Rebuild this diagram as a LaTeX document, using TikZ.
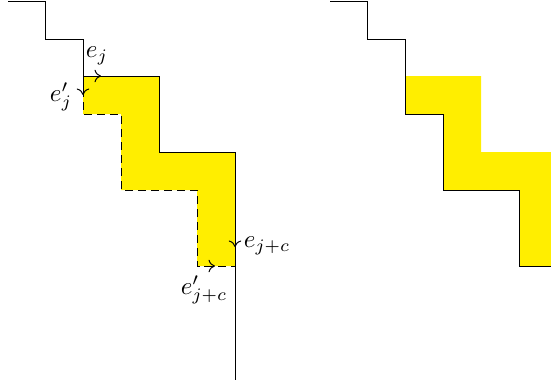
\documentclass[tikz,border=0pt]{standalone}
\usetikzlibrary{arrows.meta}
\definecolor{fillyellow}{RGB}{255,238,0}
\begin{document}
\begin{tikzpicture}[x=0.4pt,y=-0.4pt,
  boundary/.style={black,line width=0.4pt},
  dashedline/.style={black,line width=0.4pt,dash pattern=on 3.2pt off 2pt},
  region/.style={fill=fillyellow,draw=none},
  tip/.style={black,line width=0.4pt,-{To[length=2.6pt,width=5pt]}},
  lbl/.style={inner sep=0pt}]
\useasboundingbox (0,0) rectangle (551,383);
% ---------- left picture ----------
\coordinate (A0) at (8,1);
\coordinate (A1) at (45,1);
\coordinate (A2) at (45,39);
\coordinate (A3) at (83,39);
\coordinate (A4) at (83,76);
\coordinate (A5) at (159,76);
\coordinate (A6) at (159,152);
\coordinate (A7) at (235,152);
\coordinate (A8) at (235,380);
\coordinate (B1) at (83,114);
\coordinate (B2) at (121,114);
\coordinate (B3) at (121,190);
\coordinate (B4) at (197,190);
\coordinate (B5) at (197,266);
\coordinate (B6) at (235,266);
\fill[region] (A4) -- (A5) -- (A6) -- (A7) -- (B6) -- (B5) -- (B4) -- (B3) -- (B2) -- (B1) -- cycle;
\draw[boundary] (A0) -- (A1) -- (A2) -- (A3) -- (A4) -- (A5) -- (A6) -- (A7) -- (A8);
\draw[dashedline] (A4) -- (B1) -- (B2) -- (B3) -- (B4) -- (B5) -- (B6);
% arrows
\coordinate (t1a) at (90,76);  \coordinate (t1b) at (101,76);
\coordinate (t2a) at (83,84);  \coordinate (t2b) at (83,95);
\coordinate (t3a) at (235,236); \coordinate (t3b) at (235,247);
\coordinate (t4a) at (204,266); \coordinate (t4b) at (215,266);
\draw[tip] (t1a) -- (t1b);
\draw[tip] (t2a) -- (t2b);
\draw[tip] (t3a) -- (t3b);
\draw[tip] (t4a) -- (t4b);
% labels
\node[lbl] (ej) at (97,56) {$e_j$};
\node[lbl] (ejp) at (61,97) {$e'_j$};
\node[lbl] (ejc) at (267,246) {$e_{j+c}$};
\node[lbl] (ejcp) at (204,290) {$e'_{j+c}$};
% ---------- right picture ----------
\coordinate (C0) at (330,1);
\coordinate (C1) at (367,1);
\coordinate (C2) at (367,39);
\coordinate (C3) at (405,39);
\coordinate (C4) at (405,114);
\coordinate (C5) at (443,114);
\coordinate (C6) at (443,190);
\coordinate (C7) at (519,190);
\coordinate (C8) at (519,266);
\coordinate (C9) at (551,266);
\coordinate (D1) at (405,76);
\coordinate (D2) at (481,76);
\coordinate (D3) at (481,152);
\coordinate (D4) at (551,152);
\fill[region] (D1) -- (D2) -- (D3) -- (D4) -- (C9) -- (C8) -- (C7) -- (C6) -- (C5) -- (C4) -- cycle;
\draw[boundary] (C0) -- (C1) -- (C2) -- (C3) -- (C4) -- (C5) -- (C6) -- (C7) -- (C8) -- (C9);
\end{tikzpicture}
\end{document}
